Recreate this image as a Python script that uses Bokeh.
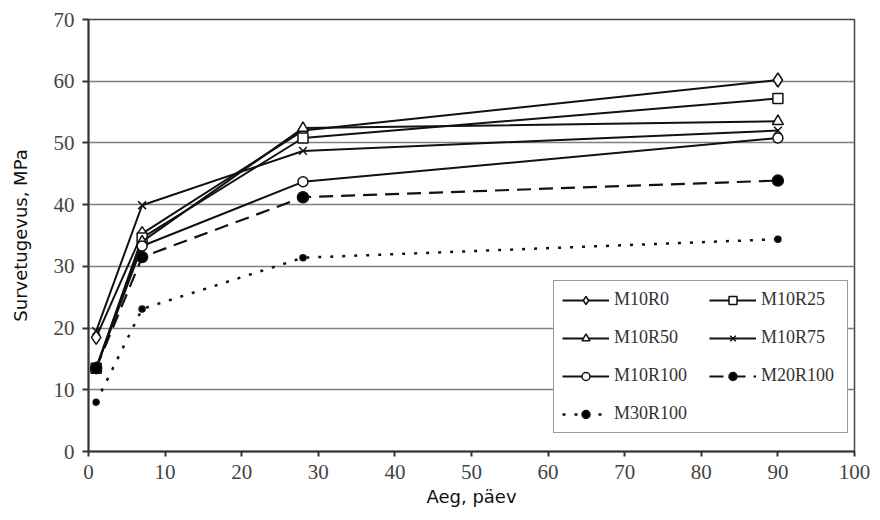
from bokeh.plotting import figure
from bokeh.models import Legend, LegendItem, FixedTicker, ColumnDataSource
from bokeh.embed import file_html
from bokeh.resources import INLINE

days = [1, 7, 28, 90]
m10r0 = [18.5, 35.3, 52.0, 60.2]
m10r25 = [13.5, 34.6, 50.8, 57.2]
m10r50 = [13.5, 34.0, 52.4, 53.5]
m10r75 = [19.5, 39.9, 48.7, 52.0]
m10r100 = [13.5, 33.3, 43.7, 50.8]
m20r100 = [13.5, 31.5, 41.2, 43.9]
m30r100 = [8.0, 23.1, 31.4, 34.4]

series_names = ["M10R0", "M10R25", "M10R50", "M10R75", "M10R100", "M20R100", "M30R100"]
series_values = [m10r0, m10r25, m10r50, m10r75, m10r100, m20r100, m30r100]
x_ticks = [0, 10, 20, 30, 40, 50, 60, 70, 80, 90, 100]
y_ticks = [0, 10, 20, 30, 40, 50, 60, 70]

styles = {
    "M10R0": dict(marker="diamond", size=14, fill="white", dash="solid", lw=2),
    "M10R25": dict(marker="square", size=10, fill="white", dash="solid", lw=2),
    "M10R50": dict(marker="triangle", size=11, fill="white", dash="solid", lw=2),
    "M10R75": dict(marker="x", size=11, fill="white", dash="solid", lw=2),
    "M10R100": dict(marker="circle", size=10, fill="white", dash="solid", lw=2),
    "M20R100": dict(marker="circle", size=11, fill="black", dash="14 8", lw=2.2),
    "M30R100": dict(marker="circle", size=6, fill="black", dash="3 9", lw=2.5),
}

p = figure(width=880, height=520, x_range=(0, 100), y_range=(0, 70),
           output_backend="svg", toolbar_location=None,
           min_border_left=88, min_border_right=26, min_border_top=19,
           min_border_bottom=69)

items = {}
for name, vals in zip(series_names, series_values):
    st = styles[name]
    src = ColumnDataSource(dict(x=days, y=vals))
    r1 = p.line("x", "y", source=src, line_color="#111111", line_width=st["lw"],
                line_dash=st["dash"])
    r2 = p.scatter("x", "y", source=src, marker=st["marker"], size=st["size"],
                   fill_color=st["fill"], line_color="#111111", line_width=1.5)
    items[name] = LegendItem(label=name, renderers=[r1, r2])

# column-major fill: first column R0, R50, R100, M30R100; second R25, R75, M20R100
order = ["M10R0", "M10R50", "M10R100", "M30R100", "M10R25", "M10R75", "M20R100"]
legend = Legend(items=[items[n] for n in order], ncols=2,
                location=(465, 18), glyph_width=47, glyph_height=20,
                label_height=20, label_width=78, spacing=17, padding=8, margin=0,
                label_standoff=5, label_text_font="Liberation Serif",
                label_text_font_size="18px", label_text_color="#333333",
                border_line_color="#333333", border_line_width=1.5,
                background_fill_color="white", background_fill_alpha=1.0)
p.add_layout(legend, "center")

p.xgrid.grid_line_color = None
p.ygrid.grid_line_color = "#808080"
p.ygrid.grid_line_width = 1.5
p.ygrid.ticker = FixedTicker(ticks=y_ticks)

p.xaxis.ticker = FixedTicker(ticks=x_ticks)
p.yaxis.ticker = FixedTicker(ticks=y_ticks)
for ax in (p.xaxis[0], p.yaxis[0]):
    ax.axis_line_color = "#333333"
    ax.axis_line_width = 2
    ax.major_tick_line_color = "#333333"
    ax.major_tick_line_width = 2
    ax.major_tick_in = 0
    ax.minor_tick_line_color = None
    ax.major_label_text_font = "Liberation Serif"
    ax.major_label_text_font_size = "21px"
    ax.major_label_text_color = "#444444"
    ax.axis_label_text_font = "DejaVu Sans"
    ax.axis_label_text_font_size = "18px"
    ax.axis_label_text_font_style = "normal"
    ax.axis_label_text_color = "#111111"

p.xaxis.major_tick_out = 5
p.xaxis.major_label_standoff = 8
p.xaxis.axis_label = "Aeg, päev"
p.xaxis.axis_label_standoff = 4
p.yaxis.major_tick_out = 6
p.yaxis.major_label_standoff = 8
p.yaxis.axis_label = "Survetugevus, MPa"
p.yaxis.axis_label_standoff = 20

p.outline_line_color = "#444444"
p.outline_line_width = 1.5

open("out.html", "w").write(file_html(p, INLINE))
